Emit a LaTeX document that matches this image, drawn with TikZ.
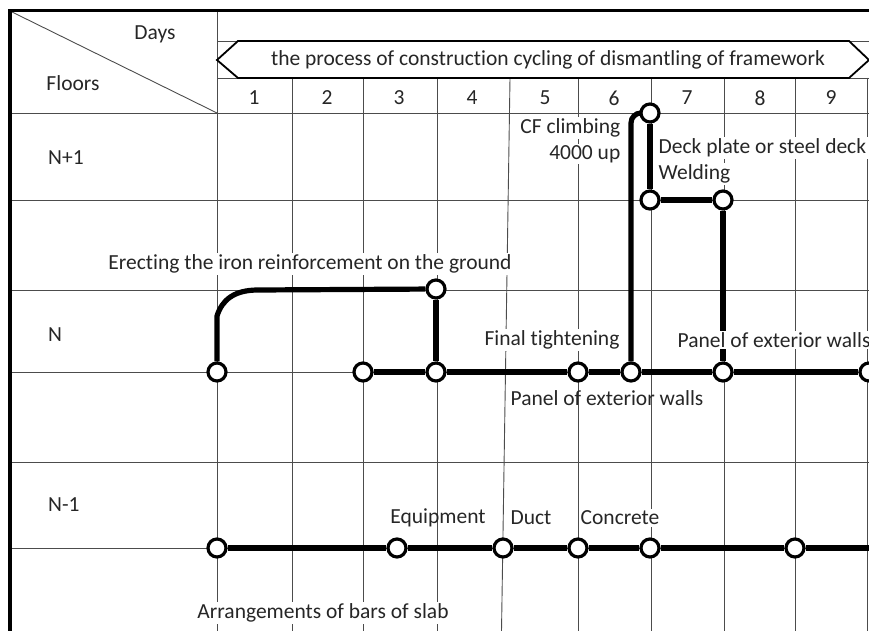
\documentclass[tikz,border=0pt]{standalone}
\usepackage{fontspec}
\setmainfont[Ligatures={NoCommon}]{Carlito}
\begin{document}
\begin{tikzpicture}[x=1pt,y=-1pt,
  gridline/.style={line width=0.9pt, draw=black!70},
  flow/.style={line width=5.2pt, draw=black},
  ev/.style={circle, draw=black, line width=3.2pt, fill=white, minimum size=18pt, inner sep=0pt},
  lbl/.style={font=\fontsize{21.5}{24}\selectfont, text=black!85, fill=white, inner sep=1.5pt},
  plain/.style={font=\fontsize{21.5}{24}\selectfont, text=black!85, inner sep=1.5pt},
  hdr/.style={font=\fontsize{21.5}{24}\selectfont, text=black!85, inner sep=1pt}]
\useasboundingbox (0,0) rectangle (869,631);
\clip (0,0) rectangle (869,631);
% grid
\foreach \yy in {113,200,290,372,462,548} \draw[gridline] (10,\yy) -- (869,\yy);
\foreach \yy in {41,78} \draw[gridline] (217,\yy) -- (869,\yy);
\draw[gridline] (217,11) -- (217,631);
\foreach \xx in {292,363,437,578,651,724,795,867} \draw[gridline] (\xx,78) -- (\xx,631);
\draw[gridline] (510,78) -- (501.5,631);
\draw[gridline] (10,11) -- (217,113);
% frame
\draw[line width=3pt] (8,11) -- (869,11);
\draw[line width=4pt] (10,9.5) -- (10,631);
% banner
\draw[line width=1.8pt, fill=white] (217,60) -- (238,41) -- (849,41) -- (869,60) -- (849,78) -- (238,78) -- cycle;
\node[hdr] (banner) at (548,60) {the process of construction cycling of dismantling of framework};
\node[hdr] (days) at (155,34) {Days};
\node[hdr] (floors) at (73,83) {Floors};
\foreach \xx/\d in {254/1,327/2,399/3,472/4,545/5,614/6,687/7,760/8,831/9}
  \node[hdr] (d\d) at (\xx,98) {\d};
\node[hdr, anchor=west] (fN1) at (47,158) {N+1};
\node[hdr, anchor=west] (fN) at (47,335) {N};
\node[hdr, anchor=west] (fNm) at (47,505) {N-1};
% labels
\node[lbl] (l1) at (310,264) {Erecting the iron reinforcement on the ground};
\node[lbl, anchor=east] (l2) at (622,128) {CF climbing};
\node[lbl, anchor=east] (l3) at (622,154) {4000 up};
\node[lbl, anchor=west] (l4) at (657,148) {Deck plate or steel deck};
\node[lbl, anchor=west] (l5) at (657,174) {Welding};
\node[lbl] (l6) at (552,340) {Final tightening};
\node[plain] (l8) at (607,398) {Panel of exterior walls};
\node[plain] (l9) at (438,518) {Equipment};
\node[lbl] (l10) at (531,518) {Duct};
\node[lbl] (l11) at (620,518) {Concrete};
\node[lbl] (l12) at (323,613) {Arrangements of bars of slab};
% events
\node[ev] (a1) at (217,372) {};
\node[ev] (a2) at (363,372) {};
\node[ev] (a3) at (436,372) {};
\node[ev] (a4) at (578,372) {};
\node[ev] (a5) at (631,372) {};
\node[ev] (a6) at (723,372) {};
\node[ev] (a7) at (869,372) {};
\node[ev] (e4) at (436,289) {};
\node[ev] (t1) at (650,113) {};
\node[ev] (w1) at (650,200) {};
\node[ev] (w2) at (723,200) {};
\node[ev] (b1) at (217,548) {};
\node[ev] (b2) at (397,548) {};
\node[ev] (b3) at (503,548) {};
\node[ev] (b4) at (578,548) {};
\node[ev] (b5) at (650,548) {};
\node[ev] (b6) at (795,548) {};
% flows
\draw[flow] (a1) -- (217,316) .. controls (222,300) and (234,290) .. (258,290) -- (e4);
\draw[flow] (e4) -- (a3);
\draw[flow] (a2) -- (a3);
\draw[flow] (a3) -- (a4);
\draw[flow] (a4) -- (a5);
\draw[flow] (a5) -- (a6);
\draw[flow] (a6) -- (a7);
\draw[flow, rounded corners=10pt] (a5) |- (t1);
\draw[flow] (t1) -- (w1);
\draw[flow] (w1) -- (w2);
\draw[flow] (w2) -- (a6);
\draw[flow] (b1) -- (b2);
\draw[flow] (b2) -- (b3);
\draw[flow] (b3) -- (b4);
\draw[flow] (b4) -- (b5);
\draw[flow] (b5) -- (b6);
\draw[flow] (b6) -- (869,548);
% label over the flow that the reference breaks
\node[lbl, anchor=west] (l7) at (676,340) {Panel of exterior walls};
\end{tikzpicture}
\end{document}
